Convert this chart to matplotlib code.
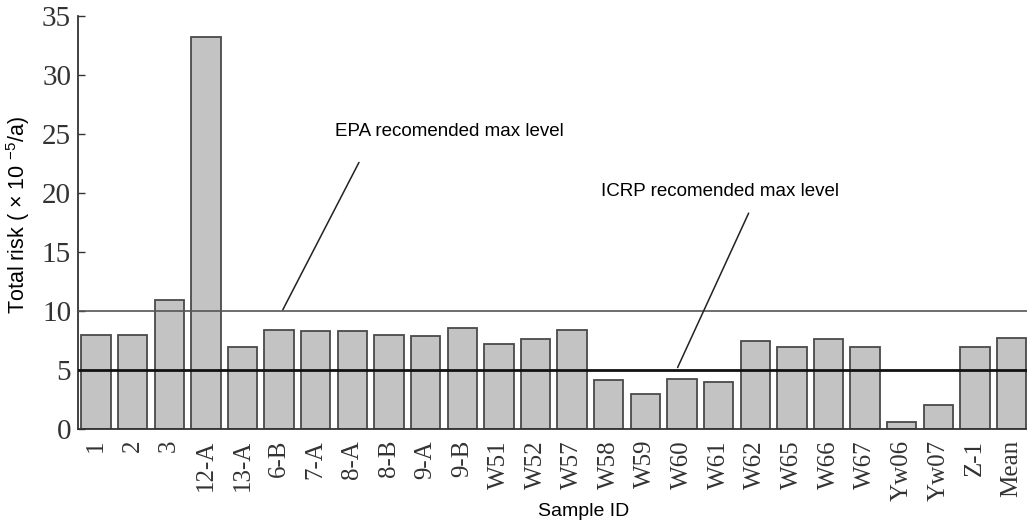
import matplotlib
matplotlib.use('Agg')
from matplotlib import pyplot as plt

# ######### Data #########
sample_ids = ['1', '2', '3', '12-A', '13-A', '6-B', '7-A', '8-A', '8-B', '9-A', '9-B',
              'W51', 'W52', 'W57', 'W58', 'W59', 'W60', 'W61', 'W62', 'W65', 'W66',
              'W67', 'Yw06', 'Yw07', 'Z-1', 'Mean']
total_risk = [8.0, 8.0, 10.9, 33.2, 6.95, 8.4, 8.3, 8.28, 8.0, 7.88, 8.56,
              7.18, 7.6, 8.39, 4.15, 2.94, 4.26, 4.0, 7.48, 6.95, 7.65,
              6.92, 0.62, 2.0, 6.92, 7.74]
epa_level = 10
icrp_level = 5

plt.rcParams['mathtext.fontset'] = 'custom'
plt.rcParams['mathtext.rm'] = 'Liberation Sans'

######### Visualization #########
fig = plt.figure(figsize=(10.27, 5.23), dpi=100)
ax = fig.add_axes([0.076, 0.18, 0.924, 0.789])

x = range(len(sample_ids))
ax.bar(x, total_risk, width=0.8, color='#c3c3c3', edgecolor='#4a4a4a', linewidth=1.3, zorder=2)

ax.axhline(epa_level, color='#555555', linewidth=1.2, zorder=3)
ax.axhline(icrp_level, color='#111111', linewidth=2.0, zorder=3)

ax.set_xlim(-0.49, 25.42)
ax.set_ylim(0, 35)
ax.set_yticks(range(0, 36, 5))
ax.set_xticks(list(x))
ax.set_xticklabels(sample_ids, rotation=90, family='Liberation Serif', fontsize=18, color='#333333')
for lbl in ax.get_yticklabels():
    lbl.set_family('Liberation Serif')
    lbl.set_fontsize(21)
    lbl.set_color('#333333')
ax.tick_params(axis='y', direction='in', length=5, width=1, color='#333333', pad=5)
ax.tick_params(axis='x', length=0, pad=8)

for side in ['top', 'right']:
    ax.spines[side].set_visible(False)
for side in ['left', 'bottom']:
    ax.spines[side].set_color('#333333')
    ax.spines[side].set_linewidth(1.3)

ax.set_ylabel(r'Total risk ( $\times$ 10 $^{\mathregular{-5}}$/a)', family='Liberation Sans', fontsize=15.5)
ax.yaxis.set_label_coords(-0.049, 0.518)
fig.text(0.568, 0.022, 'Sample ID', family='Liberation Sans', fontsize=14, ha='center', va='center')

# labels and leader lines for the two reference levels
ax.text(9.66, 25.2, 'EPA recomended max level', family='Liberation Sans', fontsize=13.5,
        ha='center', va='center')
ax.annotate('', xy=(5.10, 10.1), xytext=(7.18, 22.6),
            arrowprops=dict(arrowstyle='-', color='#222222', lw=1.1, shrinkA=0, shrinkB=0))
ax.text(17.03, 20.1, 'ICRP recomended max level', family='Liberation Sans', fontsize=13.5,
        ha='center', va='center')
ax.annotate('', xy=(15.88, 5.2), xytext=(17.82, 18.3),
            arrowprops=dict(arrowstyle='-', color='#222222', lw=1.1, shrinkA=0, shrinkB=0))

fig.savefig('out.png', dpi=100)
